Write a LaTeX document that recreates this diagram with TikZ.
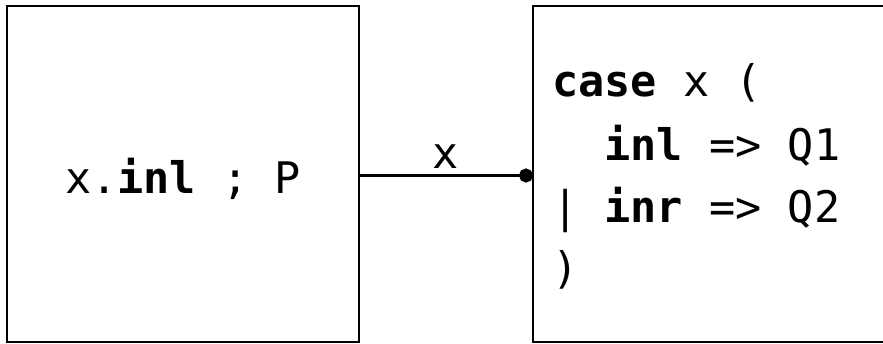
\documentclass[tikz,border=0pt]{standalone}
\usepackage{fontspec}
\setmonofont{DejaVu Sans Mono}
\usetikzlibrary{arrows.meta}
\tikzset{
  box/.style={draw=black, line width=2pt, rectangle, inner sep=0pt},
  code/.style={font=\ttfamily\fontsize{43.5}{62}\selectfont, inner sep=0pt, text=black},
  wire/.style={line width=3pt, -{Circle[length=14pt,width=14pt]}},
}
\begin{document}
\begin{tikzpicture}[x=1pt,y=-1pt]
  \useasboundingbox (0,0) rectangle (883,344);
  \node[box, minimum width=352pt, minimum height=336pt] (L) at (183,174.5) {};
  \node[box, minimum width=400pt, minimum height=336pt] (R) at (733,174.5) {};
  \node[code, anchor=base] (lt) at (183,194) {x.\textbf{inl} ; P};
  \node[code, anchor=base west] (c1) at (552,97) {\textbf{case} x (};
  \node[code, anchor=base west] (c2) at (552,161) {~~\textbf{inl} => Q1};
  \node[code, anchor=base west] (c3) at (552,223) {| \textbf{inr} => Q2};
  \node[code, anchor=base west] (c4) at (552,284) {)};
  \coordinate (a) at (359,175.5);
  \coordinate (b) at (533,175.5);
  \draw[wire] (a) -- node[code, anchor=base, yshift=6.5pt] (xl) {x} (b);
\end{tikzpicture}
\end{document}
